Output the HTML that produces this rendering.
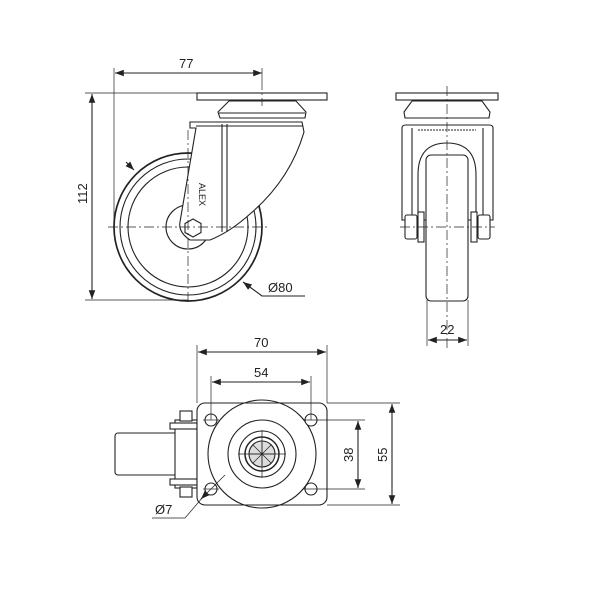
<!DOCTYPE html>
<html><head><style>html,body{margin:0;padding:0;background:#fff}svg{display:block}</style></head><body>
<svg width="600" height="600" viewBox="0 0 600 600" xmlns="http://www.w3.org/2000/svg" font-family="Liberation Sans, sans-serif" font-size="13" fill="none" stroke="#222" stroke-width="1.1">
<defs><marker id="a" markerWidth="8" markerHeight="6" refX="8" refY="3" orient="auto-start-reverse"><path d="M0,0 L8,3 L0,6 z" fill="#222" stroke="none"/></marker></defs>
<!-- SIDE VIEW -->
<g>
<circle cx="188" cy="227" r="74" stroke-width="1.7"/>
<circle cx="188" cy="227" r="68"/>
<circle cx="188" cy="227" r="60"/>
<circle cx="188" cy="227" r="22"/>
<rect x="197" y="93" width="130" height="7" fill="#fff"/>
<path d="M218,112 L229,101 L296,101 L306,112 L305,118 L220,118 Z" fill="#fff"/>
<line x1="219" y1="113" x2="305" y2="113"/>
<path d="M190,122 L302,122 L304,132 Q290,180 250,214 Q230,232 210,240 L190,240 Q178,232 180,222 L196,128 L190,128 Z" fill="#fff"/>
<line x1="222" y1="124" x2="222" y2="232"/><line x1="227" y1="124" x2="227" y2="232"/>
<line x1="196" y1="126" x2="303" y2="126"/>
<polygon points="193,219 201,223.5 201,232.5 193,237 185,232.5 185,223.5" fill="#fff"/>
<text x="0" y="0" font-size="9" fill="#222" stroke="none" transform="translate(199,183) rotate(90)">ALEX</text>
<g stroke-dasharray="10,3,2,3" stroke-width="0.7"><line x1="108" y1="227" x2="270" y2="227"/><line x1="188" y1="130" x2="188" y2="305"/><line x1="262" y1="80" x2="262" y2="106"/></g>
<line x1="114" y1="68" x2="114" y2="220" stroke-width="0.7"/>
<line x1="115" y1="73" x2="262" y2="73" marker-start="url(#a)" marker-end="url(#a)"/>
<line x1="262" y1="68" x2="262" y2="80" stroke-width="0.7"/>
<text x="179" y="68" fill="#222" stroke="none">77</text>
<line x1="85" y1="93" x2="197" y2="93" stroke-width="0.7"/><line x1="85" y1="300" x2="188" y2="300" stroke-width="0.7"/>
<line x1="92" y1="94" x2="92" y2="299" marker-start="url(#a)" marker-end="url(#a)"/>
<text x="0" y="0" fill="#222" stroke="none" transform="translate(87,204) rotate(-90)">112</text>
<line x1="126" y1="162" x2="134" y2="170" marker-end="url(#a)"/>
<polyline points="243,282 262,296 305,296" marker-start="url(#a)"/>
<text x="268" y="292" fill="#222" stroke="none">Ø80</text>
</g>
<!-- FRONT VIEW -->
<g>
<rect x="396" y="93" width="102" height="7" fill="#fff"/>
<path d="M404,112 L412,101 L482,101 L490,112 L489,118 L405,118 Z" fill="#fff"/>
<path d="M402,128 Q402,125 406,125 L489,125 Q493,125 493,128 L493,220 L402,220 Z" fill="#fff"/>
<line x1="412" y1="128" x2="412" y2="220"/><line x1="483" y1="128" x2="483" y2="220"/>
<line x1="418" y1="130" x2="476" y2="130" stroke-dasharray="2,1"/>
<path d="M418,220 L418,175 Q418,143 447,143 Q476,143 476,175 L476,220"/>
<rect x="426" y="155" width="42" height="146" rx="5" fill="#fff"/>
<rect x="405" y="215" width="12" height="24" rx="2" fill="#fff"/><rect x="478" y="215" width="12" height="24" rx="2" fill="#fff"/>
<rect x="418" y="212" width="6" height="30" fill="#fff"/><rect x="471" y="212" width="6" height="30" fill="#fff"/>
<g stroke-dasharray="10,3,2,3" stroke-width="0.7"><line x1="447" y1="86" x2="447" y2="348"/><line x1="400" y1="227" x2="495" y2="227"/></g>
<line x1="427" y1="300" x2="427" y2="346" stroke-width="0.7"/><line x1="468" y1="300" x2="468" y2="346" stroke-width="0.7"/>
<line x1="428" y1="340" x2="467" y2="340" marker-start="url(#a)" marker-end="url(#a)"/>
<text x="440" y="334" fill="#222" stroke="none">22</text>
</g>
<!-- TOP VIEW -->
<g>
<rect x="115" y="433" width="80" height="42" rx="3" fill="#fff"/>
<rect x="175" y="420" width="22" height="68" fill="#fff"/>
<rect x="170" y="423" width="27" height="6" fill="#fff"/><rect x="170" y="479" width="27" height="6" fill="#fff"/>
<rect x="180" y="411" width="12" height="10" fill="#fff"/><rect x="180" y="487" width="12" height="10" fill="#fff"/>
<rect x="197" y="403" width="130" height="102" rx="8" fill="#fff"/>
<circle cx="262" cy="454" r="54"/><circle cx="262" cy="454" r="34"/><circle cx="262" cy="454" r="23"/>
<circle cx="262" cy="454" r="17" stroke-width="1.5"/><circle cx="262" cy="454" r="13" fill="#ddd"/>
<g stroke-width="0.7"><line x1="250" y1="454" x2="274" y2="454"/><line x1="262" y1="442" x2="262" y2="466"/><line x1="253" y1="445" x2="271" y2="463"/><line x1="271" y1="445" x2="253" y2="463"/></g>
<circle cx="211" cy="420" r="6" fill="#fff"/><circle cx="311" cy="420" r="6" fill="#fff"/><circle cx="211" cy="489" r="6" fill="#fff"/><circle cx="311" cy="489" r="6" fill="#fff"/>
<g stroke-width="0.7"><line x1="203" y1="420" x2="219" y2="420"/><line x1="303" y1="420" x2="365" y2="420"/><line x1="203" y1="489" x2="219" y2="489"/><line x1="303" y1="489" x2="365" y2="489"/><line x1="327" y1="403" x2="400" y2="403"/><line x1="327" y1="505" x2="400" y2="505"/>
<line x1="197" y1="345" x2="197" y2="403"/><line x1="327" y1="345" x2="327" y2="403"/><line x1="211" y1="376" x2="211" y2="420"/><line x1="311" y1="376" x2="311" y2="420"/>
<line x1="262" y1="430" x2="262" y2="478"/><line x1="238" y1="454" x2="286" y2="454"/></g>
<line x1="198" y1="352" x2="326" y2="352" marker-start="url(#a)" marker-end="url(#a)"/>
<text x="254" y="347" fill="#222" stroke="none">70</text>
<line x1="212" y1="382" x2="310" y2="382" marker-start="url(#a)" marker-end="url(#a)"/>
<text x="254" y="377" fill="#222" stroke="none">54</text>
<line x1="358" y1="421" x2="358" y2="488" marker-start="url(#a)" marker-end="url(#a)"/>
<text x="0" y="0" fill="#222" stroke="none" transform="translate(353,462) rotate(-90)">38</text>
<line x1="392" y1="404" x2="392" y2="504" marker-start="url(#a)" marker-end="url(#a)"/>
<text x="0" y="0" fill="#222" stroke="none" transform="translate(387,462) rotate(-90)">55</text>
<polyline points="225,475 203,497 185,518 152,518" stroke-width="0.7"/>
<line x1="206" y1="494" x2="201" y2="499" marker-end="url(#a)"/>
<text x="155" y="514" fill="#222" stroke="none">Ø7</text>
</g>
</svg>
</body></html>
